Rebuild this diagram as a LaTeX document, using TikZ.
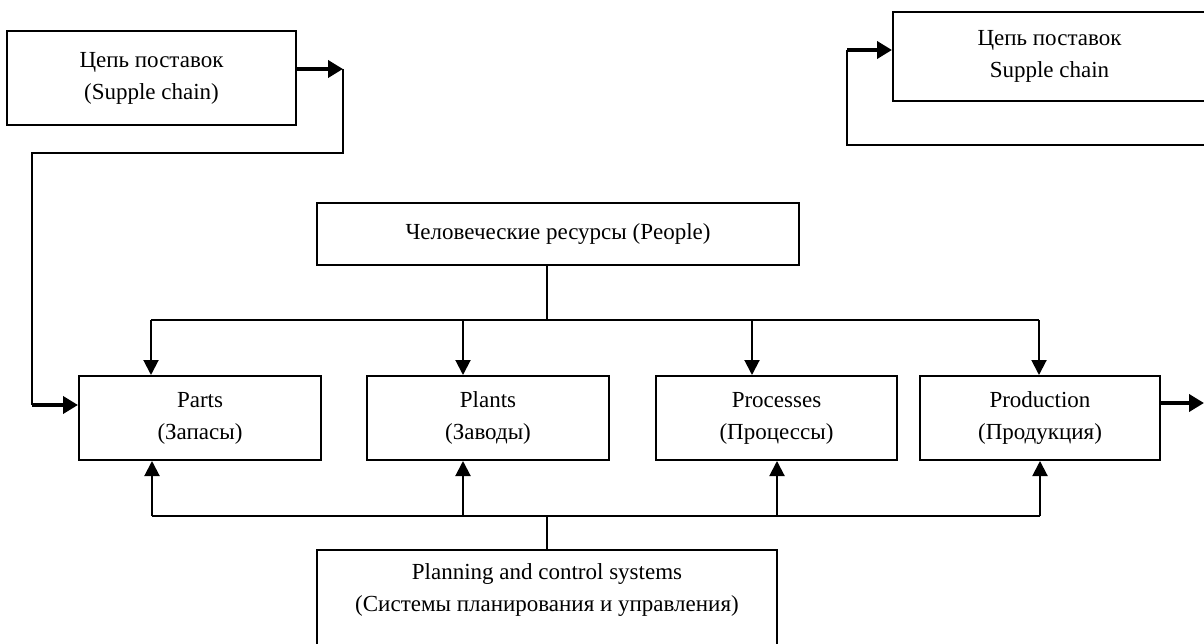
\documentclass[tikz,border=0pt]{standalone}
\usepackage{fontspec}
\setmainfont{Liberation Serif}
\usetikzlibrary{arrows.meta}
\begin{document}
\begin{tikzpicture}[x=1pt,y=-1pt,
  box/.style={draw, line width=2pt, rectangle, align=center, inner sep=0pt},
  thin/.style={line width=2pt},
  arr/.style={line width=2pt, -{Triangle[length=15pt,width=15pt]}},
  fatarr/.style={line width=4.5pt, -{Triangle[length=15pt,width=17pt]}},
  every node/.style={font=\fontsize{23}{32}\selectfont}]
\useasboundingbox (0,0) rectangle (1204,644);
% boxes
\node[box, minimum width=289pt, minimum height=94pt] (sc1) at (151.5,78) {Цепь поставок\\(Supple chain)};
\node[box, minimum width=313pt, minimum height=89pt] (sc2) at (1049.5,56.5) {Цепь поставок\\Supple chain};
\node[box, minimum width=482pt, minimum height=62pt] (people) at (558,234) {Человеческие ресурсы (People)};
\node[box, minimum width=242pt, minimum height=84pt] (parts) at (200,418) {Parts\\(Запасы)};
\node[box, minimum width=242pt, minimum height=84pt] (plants) at (488,418) {Plants\\(Заводы)};
\node[box, minimum width=241pt, minimum height=84pt] (proc) at (776.5,418) {Processes\\(Процессы)};
\node[box, minimum width=240pt, minimum height=84pt] (prod) at (1040,418) {Production\\(Продукция)};
\node[box, minimum width=460pt, minimum height=120pt, anchor=north] (plan) at (547,549) {};
\node[align=center, inner sep=0pt] (plantext) at (547,590) {Planning and control systems\\(Системы планирования и управления)};
% coordinates
\coordinate (a1) at (343,69);
\coordinate (a2) at (343,153);
\coordinate (a3) at (32,153);
\coordinate (a4) at (32,405);
\coordinate (pb) at (547,320);
\coordinate (qb) at (547,516);
\coordinate (out) at (1204,403);
\coordinate (b1) at (1215,145);
\coordinate (b2) at (847,145);
\coordinate (b3) at (847,50);
% supply chain left
\draw[fatarr] (sc1.east |- a1) -- (a1);
\draw[thin, line join=miter] (a1) -- (a2) -- (a3) -- (a4);
\draw[fatarr] (a4) -- (parts.west |- a4);
% people bus
\draw[thin] (people.south -| pb) -- (pb);
\draw[thin] (151,320) -- (1039,320);
\draw[arr] (151,320) -- (parts.north -| 151,0);
\draw[arr] (463,320) -- (plants.north -| 463,0);
\draw[arr] (752,320) -- (proc.north -| 752,0);
\draw[arr] (1039,320) -- (prod.north -| 1039,0);
% planning bus
\draw[thin] (plan.north -| qb) -- (qb);
\draw[thin] (152,516) -- (1040,516);
\draw[arr] (152,516) -- (parts.south -| 152,0);
\draw[arr] (463,516) -- (plants.south -| 463,0);
\draw[arr] (777,516) -- (proc.south -| 777,0);
\draw[arr] (1040,516) -- (prod.south -| 1040,0);
% production out
\draw[fatarr] (prod.east |- out) -- (out);
% supply chain right
\draw[thin, line join=miter] (b1) -- (b2) -- (b3);
\draw[fatarr] (b3) -- (sc2.west |- b3);
\end{tikzpicture}
\end{document}
